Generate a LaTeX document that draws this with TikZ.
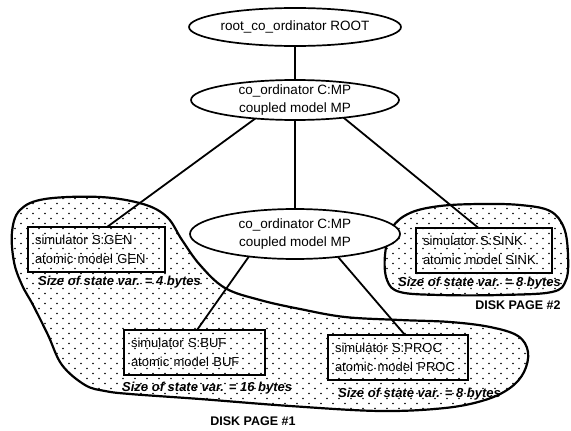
\documentclass[tikz,border=0pt]{standalone}
\usepackage{fontspec}
\setmainfont{Liberation Sans}
\usetikzlibrary{shapes.geometric,patterns,calc}
\pgfdeclarepatternformonly{sparsedots}{\pgfqpoint{-1pt}{-1pt}}{\pgfqpoint{13pt}{11pt}}{\pgfqpoint{12pt}{10pt}}{%
  \pgfpathcircle{\pgfqpoint{3pt}{2.5pt}}{0.85pt}\pgfusepath{fill}%
  \pgfpathcircle{\pgfqpoint{9pt}{7.5pt}}{0.85pt}\pgfusepath{fill}}
\begin{document}
\begin{tikzpicture}[x=1pt,y=-1pt,
  every node/.style={font=\fontsize{13.5}{18.5}\selectfont},
  ell/.style={draw, ellipse, line width=1.7pt, fill=white, inner sep=0pt, outer sep=0pt},
  lbl/.style={inner sep=0pt, align=center},
  simbox/.style={draw, line width=1.8pt, anchor=north west, inner xsep=7pt, inner ysep=0pt, minimum height=45pt, align=left, outer sep=0pt, font=\fontsize{13}{18.5}\selectfont},
  sizelbl/.style={anchor=west, inner sep=0pt, font=\fontsize{13}{15}\selectfont\bfseries\itshape},
  disk/.style={inner sep=0pt, font=\fontsize{12.5}{15}\selectfont\bfseries},
  conn/.style={line width=1.8pt},
  blob/.style={line width=2.2pt, pattern=sparsedots}
]
\useasboundingbox (0,0) rectangle (571,431);

% disk page blobs
\draw[blob] plot[smooth cycle, tension=0.6] coordinates {
  (20,210) (45,199) (100,197) (143,204) (167,217) (182,240) (200,265)
  (225,288) (260,300) (300,309) (345,317) (400,320) (450,322) (490,327)
  (518,336) (528,352) (524,372) (510,388) (485,400) (445,408) (380,411)
  (290,406) (200,399) (130,394) (105,391) (85,385) (62,365) (48,335)
  (33,305) (22,285) (14,262) (12,232)};
\draw[blob] plot[smooth cycle, tension=0.6] coordinates {
  (392,228) (410,213) (440,206) (480,204) (520,205) (550,211) (564,228)
  (568,255) (566,280) (552,292) (500,295) (440,295) (400,292) (387,280)
  (385,255)};

% ellipses
\node[ell, minimum width=212pt, minimum height=38pt] (root) at (295,27) {};
\node[lbl] (roott) at (root) {root\_co\_ordinator ROOT};
\node[ell, minimum width=208pt, minimum height=40pt] (c1) at (295,100) {};
\node[lbl] (c1t) at (c1) {co\_ordinator C:MP\\coupled model MP};
\node[ell, minimum width=210pt, minimum height=50pt] (c2) at (295,234) {};
\node[lbl] (c2t) at (c2) {co\_ordinator C:MP\\coupled model MP};

% simulator boxes
\node[simbox, text width=123pt] (gen) at (28,227) {simulator S:GEN\\atomic model GEN};
\node[simbox, text width=122pt] (sink) at (416,228) {simulator S:SINK\\atomic model SINK};
\node[simbox, text width=127pt] (buf) at (124,330) {simulator S:BUF\\atomic model BUF};
\node[simbox, text width=126pt] (proc) at (328,335) {simulator S:PROC\\atomic model PROC};

% size labels
\node[sizelbl] (gens) at (38,282) {Size of state var. = 4 bytes};
\node[sizelbl] (sinks) at (398,283) {Size of state var. = 8 bytes};
\node[sizelbl] (bufs) at (122,388) {Size of state var. = 16 bytes};
\node[sizelbl] (procs) at (338,394) {Size of state var. = 8 bytes};

% disk page labels
\node[disk] (dp2) at (518,305) {DISK PAGE \#2};
\node[disk] (dp1) at (253,421) {DISK PAGE \#1};

% connectors
\draw[conn] (root.south) -- (c1.north);
\draw[conn] (c1.south) -- (c2.north);
\draw[conn] (c1.205) -- ($(gen.north west)!0.577!(gen.north east)$);
\draw[conn] (c1.340) -- ($(sink.north west)!0.46!(sink.north east)$);
\draw[conn] (c2.206) -- ($(buf.north west)!0.518!(buf.north east)$);
\draw[conn] (c2.332) -- ($(proc.north west)!0.55!(proc.north east)$);
\end{tikzpicture}
\end{document}
